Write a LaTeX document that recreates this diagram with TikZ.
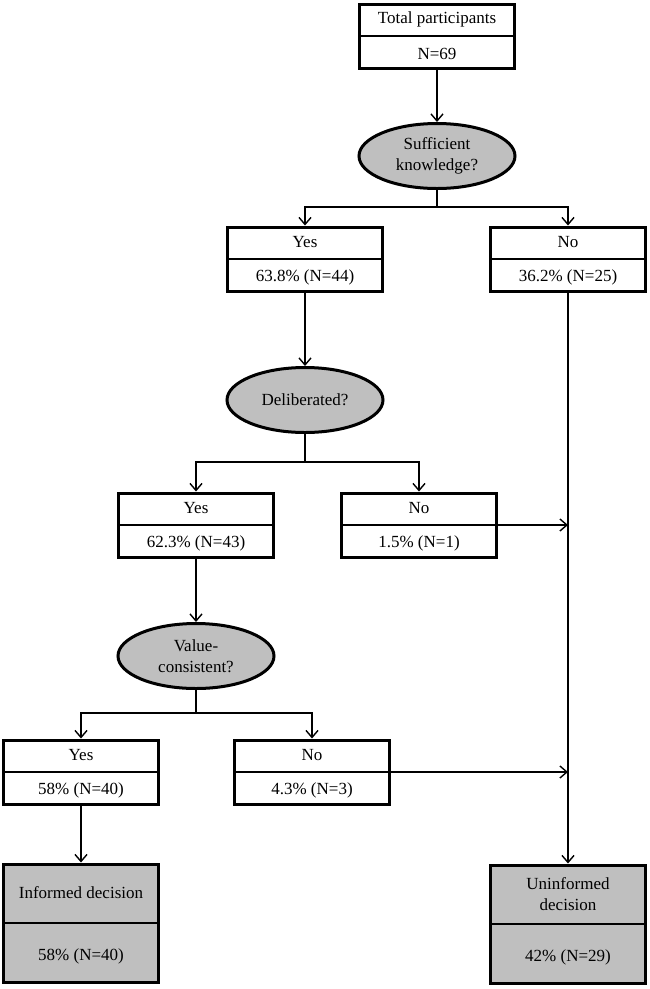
\documentclass[tikz,border=0pt]{standalone}
\usepackage{fontspec}
\setmainfont{Liberation Serif}
\usetikzlibrary{calc, shapes.geometric, arrows.meta}
\definecolor{decisiongray}{RGB}{191,191,191}

\begin{document}
\begin{tikzpicture}[x = 1pt, y = -1pt, font = \fontsize{17}{21}\selectfont]
	\tikzstyle {box} = [draw, line width = 3pt, minimum width = 155pt, minimum height = 64pt, inner sep = 0pt];
	\tikzstyle {outcome} = [box, fill = decisiongray, minimum height = 118pt];
	\tikzstyle {question} = [draw, ellipse, fill = decisiongray, line width = 3pt, minimum width = 156pt, minimum height = 65pt, align = center, inner sep = 0pt];
	\tikzstyle {divider} = [draw, line width = 1.4pt];
	\tikzstyle {link} = [draw, line width = 1.4pt, -{Straight Barb[length = 7pt, width = 12pt]}];
	\useasboundingbox (0, 0) rectangle (649, 989);
	\foreach \nodename/\kind/\xpos/\ypos/\upper/\lower in {total/box/437/36/Total participants/N=69, yes1/box/305/259/Yes/63.8\% (N=44), no1/box/568/259/No/36.2\% (N=25), yes2/box/196/525/Yes/62.3\% (N=43), no2/box/419/525/No/1.5\% (N=1), yes3/box/81/772/Yes/58\% (N=40), no3/box/312/772/No/4.3\% (N=3), informed/outcome/81/923/Informed decision/58\% (N=40), uninformed/outcome/568/924/Uninformed\\decision/42\% (N=29)} {
			\node[\kind] (\nodename) at (\xpos, \ypos) {};
			\draw[divider] (\nodename.west) -- (\nodename.east);
			\node[align = center] (\nodename-upper) at ($(\nodename.center)!0.5!(\nodename.north)$) {\upper};
			\node[align = center] (\nodename-lower) at ($(\nodename.center)!0.55!(\nodename.south)$) {\lower};
		}
	\node[question] (knowledge) at (437, 156) {Sufficient\\knowledge?};
	\node[question] (deliberated) at (305, 400) {Deliberated?};
	\node[question] (consistent) at (196, 656) {Value-\\consistent?};
	\coordinate (fork1) at (437, 207);
	\coordinate (fork2) at (305, 462);
	\coordinate (fork3) at (196, 713);
	\coordinate (join1) at (no1.south |- no2.east);
	\coordinate (join2) at (no1.south |- no3.east);
	\draw[link] (total) -- (knowledge);
	\foreach \asknode/\forknode/\yesnode/\nonode in {knowledge/fork1/yes1/no1, deliberated/fork2/yes2/no2, consistent/fork3/yes3/no3} {
			\draw[divider] (\asknode) -- (\forknode);
			\draw[link] (\forknode) -| (\yesnode);
			\draw[link] (\forknode) -| (\nonode);
		}
	\foreach \firstnode/\secondnode in {yes1/deliberated, yes2/consistent, yes3/informed, no1/uninformed, no2.east/join1, no3.east/join2} {
			\draw[link] (\firstnode) -- (\secondnode);
		}
\end{tikzpicture}
\end{document}
